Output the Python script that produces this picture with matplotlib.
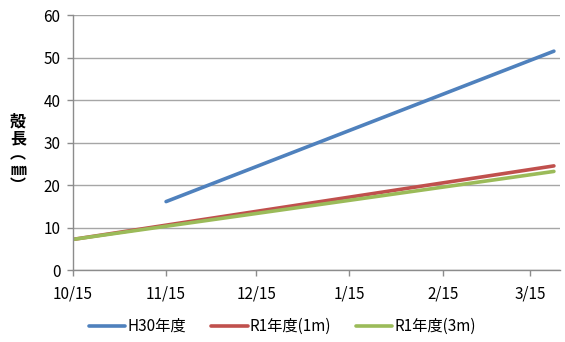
import matplotlib
matplotlib.use("Agg")
import matplotlib.pyplot as plt
import numpy as np
from datetime import datetime

plt.rcParams['font.family'] = ['Noto Sans CJK JP', 'DejaVu Sans']

# data
h30_dates = [datetime(2019, 11, 15), datetime(2020, 3, 23)]
h30_vals = [16.1, 51.5]
r1_1m_dates = [datetime(2019, 10, 15), datetime(2020, 3, 23)]
r1_1m_vals = [7.2, 24.5]
r1_3m_dates = [datetime(2019, 10, 15), datetime(2020, 3, 23)]
r1_3m_vals = [7.2, 23.2]

tick_dates = [datetime(2019, 10, 15), datetime(2019, 11, 15), datetime(2019, 12, 15),
              datetime(2020, 1, 15), datetime(2020, 2, 15), datetime(2020, 3, 15)]
tick_labels = ["10/15", "11/15", "12/15", "1/15", "2/15", "3/15"]

fig = plt.figure(figsize=(5.65, 3.42), dpi=100)
ax = fig.add_axes([0.129, 0.2105, 0.862, 0.7455])

ax.plot(h30_dates, h30_vals, color="#4F81BD", lw=2.6, label="H30年度", solid_capstyle="round")
ax.plot(r1_1m_dates, r1_1m_vals, color="#C0504D", lw=2.6, label="R1年度(1m)", solid_capstyle="round")
ax.plot(r1_3m_dates, r1_3m_vals, color="#9BBB59", lw=2.6, label="R1年度(3m)", solid_capstyle="round")

ax.set_xlim(datetime(2019, 10, 15), datetime(2020, 3, 25))
ax.set_ylim(0, 60)
ax.set_yticks(np.arange(0, 61, 10))
ax.set_xticks(tick_dates)
ax.set_xticklabels(tick_labels)

ax.grid(axis="y", color="#a6a6a6", lw=1.0)
ax.set_axisbelow(True)
for s in ["top", "right"]:
    ax.spines[s].set_visible(False)
for s in ["left", "bottom"]:
    ax.spines[s].set_color("#8c8c8c")
    ax.spines[s].set_linewidth(1.0)
ax.tick_params(axis="both", colors="#8c8c8c", length=4, width=1.0, labelsize=11,
               labelcolor="black")
ax.tick_params(axis="x", pad=7)
ax.tick_params(axis="y", pad=5)

fig.text(0.032, 0.55, "殻\n長\n︵\n㎜\n︶", ha="center", va="center",
         fontsize=11.5, fontweight="bold", linespacing=1.0)

fig.legend(loc="center", bbox_to_anchor=(0.5, 0.045), ncol=3, frameon=False,
           fontsize=11, handlelength=2.4, columnspacing=1.6, handletextpad=0.15)

fig.savefig("out.png", dpi=100)
